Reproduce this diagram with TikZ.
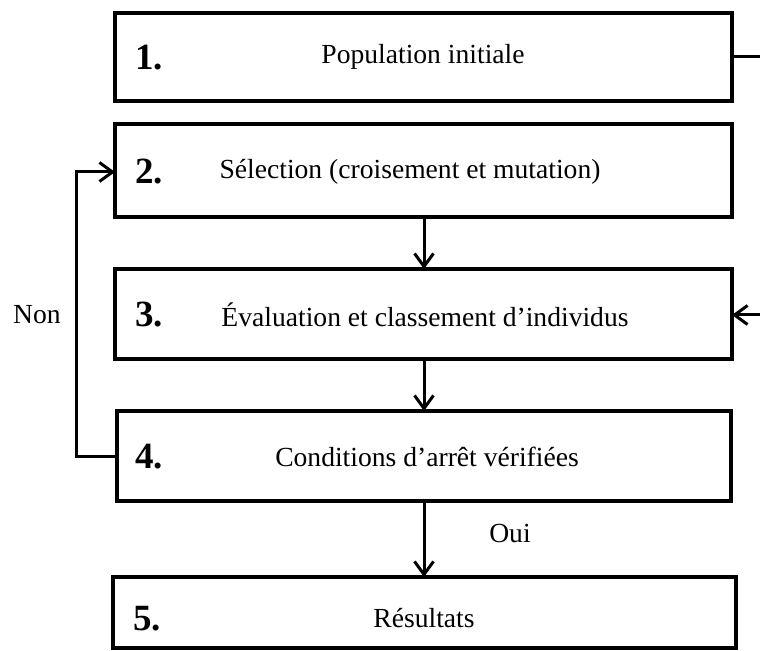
\documentclass[tikz,border=0pt]{standalone}
\usepackage{fontspec}
\setmainfont{Liberation Serif}
\usetikzlibrary{arrows.meta}
\begin{document}
\begin{tikzpicture}[x=0.5pt,y=-0.5pt,
  box/.style={draw,line width=2pt,rectangle,inner sep=0pt,outer sep=0pt},
  num/.style={font=\fontsize{18.5}{20}\selectfont\bfseries,inner sep=0pt},
  lbl/.style={font=\fontsize{13.8}{16}\selectfont,inner sep=0pt},
  conn/.style={line width=1.5pt},
  arr/.style={conn,-{Straight Barb[length=6.5pt,width=9.5pt,line width=1.5pt]}}]
\useasboundingbox (0,0) rectangle (760,651);
% boxes
\node[box,minimum width=308.5pt,minimum height=44pt] (b1) at (423.5,57) {};
\node[box,minimum width=308.5pt,minimum height=46.5pt] (b2) at (423.5,170.5) {};
\node[box,minimum width=308.5pt,minimum height=45pt] (b3) at (423.5,314) {};
\node[box,minimum width=307pt,minimum height=45pt] (b4) at (424,456) {};
\node[box,minimum width=311.5pt,minimum height=35.5pt] (b5) at (424.5,612.5) {};
% numbers
\node[num] (n1) at (149,58) {1.};
\node[num] (n2) at (149,172) {2.};
\node[num] (n3) at (149,315) {3.};
\node[num] (n4) at (149,457) {4.};
\node[num] (n5) at (147,619) {5.};
% texts
\node[lbl] (t1) at (423,57) {Population initiale};
\node[lbl] (t2) at (410,172) {Sélection (croisement et mutation)};
\node[lbl] (t3) at (425,315) {Évaluation et classement d’individus};
\node[lbl] (t4) at (427,457) {Conditions d’arrêt vérifiées};
\node[lbl] (t5) at (424,618) {Résultats};
\node[lbl] (non) at (37,315) {Non};
\node[lbl] (oui) at (510,533) {Oui};
% connectors
\coordinate (vx) at (424,0);
\coordinate (lx) at (76,0);
\coordinate (e1) at (760,57);
\coordinate (e3) at (760,315);
\draw[arr] (b2.south -| vx) -- (b3.north -| vx);
\draw[arr] (b3.south -| vx) -- (b4.north -| vx);
\draw[arr] (b4.south -| vx) -- (b5.north -| vx);
\draw[conn] (b1.east |- e1) -- (e1);
\draw[arr] (e3) -- (b3.east |- e3);
\draw[arr] (b4.west |- t4) -- (lx |- t4) -- (lx |- t2) -- (b2.west |- t2);
\end{tikzpicture}
\end{document}
